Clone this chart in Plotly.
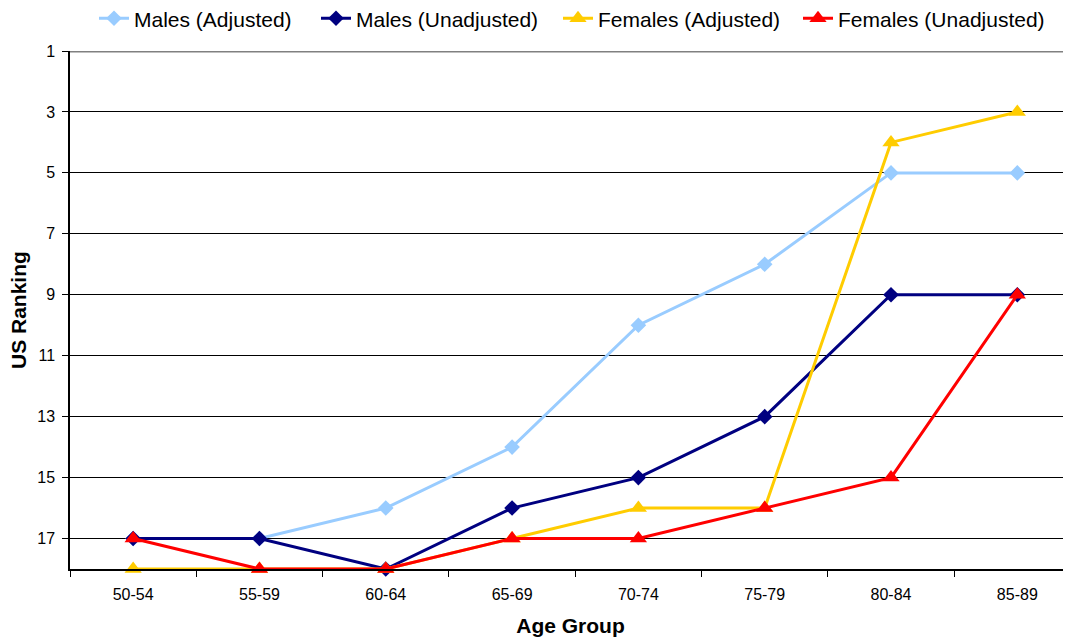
import plotly.graph_objects as go

age_groups = ["50-54", "55-59", "60-64", "65-69", "70-74", "75-79", "80-84", "85-89"]
males_adj = [17, 17, 16, 14, 10, 8, 5, 5]
males_unadj = [17, 17, 18, 16, 15, 13, 9, 9]
females_adj = [18, 18, 18, 17, 16, 16, 4, 3]
females_unadj = [17, 18, 18, 17, 17, 16, 15, 9]
y_ticks = [1, 3, 5, 7, 9, 11, 13, 15, 17]

series = [
    ("Males (Adjusted)", males_adj, "#99CCFF", "diamond", 12, "legend"),
    ("Males (Unadjusted)", males_unadj, "#000080", "diamond", 12, "legend2"),
    ("Females (Adjusted)", females_adj, "#FFCC00", "triangle-up", 15, "legend3"),
    ("Females (Unadjusted)", females_unadj, "#FF0000", "triangle-up", 15, "legend4"),
]
legend_x = [99, 321, 563, 803]

fig = go.Figure()
for name, vals, color, sym, size, lg in series:
    fig.add_trace(go.Scatter(
        x=age_groups, y=vals, name=name, mode="lines+markers",
        line=dict(color=color, width=3),
        marker=dict(symbol=sym, size=size, color=color),
        cliponaxis=False, legend=lg,
    ))

fig.update_layout(
    width=1063, height=631,
    paper_bgcolor="white", plot_bgcolor="white",
    margin=dict(l=62, r=0, t=43, b=70, autoexpand=False),
    font=dict(family="Liberation Sans, Arial, sans-serif", color="black", size=16),
    showlegend=True,
)
for i, lx in enumerate(legend_x):
    key = "legend" if i == 0 else f"legend{i + 1}"
    fig.update_layout({key: dict(
        orientation="h", x=(lx - 8 - 5) / 1063, xanchor="left", xref="container",
        y=1.102, yanchor="top", yref="paper",
        font=dict(size=21), itemwidth=30, bgcolor="rgba(0,0,0,0)",
    )})
fig.update_xaxes(
    type="category", tickson="boundaries", ticks="outside", ticklen=6,
    tickcolor="black", showline=True, linecolor="black", linewidth=1.5,
    showgrid=False, tickfont=dict(size=16), ticklabelstandoff=10,
    title=dict(text="<b>Age Group</b>", font=dict(size=21), standoff=16),
    range=[-0.5, 7.425],
)
fig.update_yaxes(
    autorange=False, range=[18, 1], tickvals=y_ticks, ticks="outside", ticklen=6,
    tickcolor="black", showline=True, linecolor="black", linewidth=1.5,
    showgrid=True, gridcolor="black", gridwidth=1, zeroline=False,
    tickfont=dict(size=16), ticklabelstandoff=4,
)
fig.add_annotation(
    text="<b>US Ranking</b>", textangle=-90, xref="paper", yref="paper",
    x=(18 - 8 - 62) / 1001, y=0.5, xanchor="center", yanchor="middle",
    showarrow=False, font=dict(size=21),
)
fig.add_shape(type="line", xref="paper", yref="y", x0=0, x1=1, y0=1, y1=1,
              line=dict(color="#808080", width=3))

fig.write_html("out.html")
